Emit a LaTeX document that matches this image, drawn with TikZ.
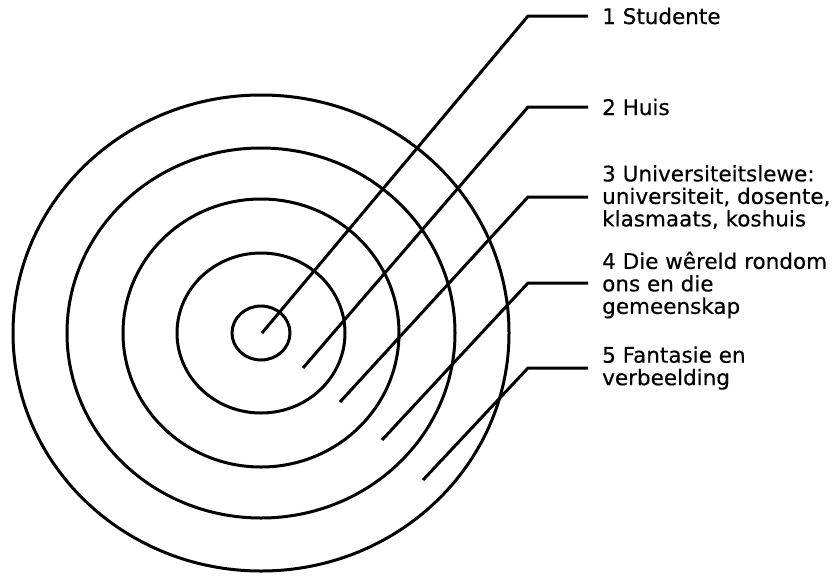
\documentclass[tikz,border=0pt]{standalone}
\usepackage{fontspec}
\setmainfont{DejaVu Sans}[BoldFont=DejaVu Sans, BoldFeatures={FakeBold=0.4}]
\begin{document}
\begin{tikzpicture}[x=1pt,y=-1pt,
  ring/.style={draw, line width=3pt},
  lead/.style={draw, line width=3pt, line join=miter},
  lab/.style={anchor=west, inner xsep=14pt, inner ysep=0pt, align=left,
              font=\fontsize{21.5}{22.5}\selectfont\bfseries}]
\useasboundingbox (0,0) rectangle (832,576);
% rings
\draw[ring] (261,333) ellipse [x radius=248pt, y radius=238pt];
\draw[ring] (261,333) ellipse [x radius=194pt, y radius=185pt];
\draw[ring] (261,333) ellipse [x radius=138pt, y radius=134pt];
\draw[ring] (261,333) ellipse [x radius=84pt, y radius=80pt];
\draw[ring] (261,333) ellipse [x radius=29pt, y radius=27pt];
% labels
\node[lab] (l1) at (588,16) {1 Studente};
\node[lab] (l2) at (588,107) {2 Huis};
\node[lab] (l3) at (588,197) {3 Universiteitslewe:\\universiteit, dosente,\\klasmaats, koshuis};
\node[lab] (l4) at (588,285) {4 Die wêreld rondom\\ons en die\\gemeenskap};
\node[lab] (l5) at (588,368) {5 Fantasie en\\verbeelding};
% leader points
\coordinate (s1) at (262,333); \coordinate (b1) at (528,16);
\coordinate (s2) at (303,368); \coordinate (b2) at (528,107);
\coordinate (s3) at (340,402); \coordinate (b3) at (528,197);
\coordinate (s4) at (382,440); \coordinate (b4) at (528,283);
\coordinate (s5) at (423,480); \coordinate (b5) at (528,368);
\draw[lead] (s1) -- (b1) -- (b1 -| l1.west);
\draw[lead] (s2) -- (b2) -- (b2 -| l2.west);
\draw[lead] (s3) -- (b3) -- (b3 -| l3.west);
\draw[lead] (s4) -- (b4) -- (b4 -| l4.west);
\draw[lead] (s5) -- (b5) -- (b5 -| l5.west);
\end{tikzpicture}
\end{document}
